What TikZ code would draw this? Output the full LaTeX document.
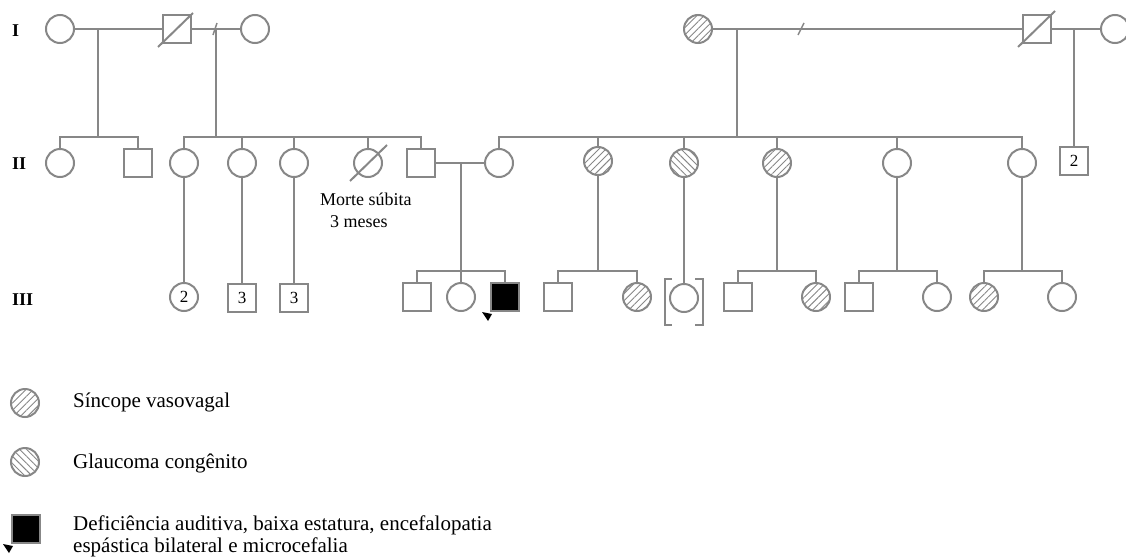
\documentclass[tikz,border=0pt]{standalone}
\usepackage{fontspec}
\setmainfont{Liberation Serif}
\usetikzlibrary{patterns.meta}
\definecolor{pedline}{RGB}{135,135,135}
\tikzset{
  ln/.style={draw=pedline, line width=2pt},
  person/.style={ln, minimum size=28pt, inner sep=0pt, font=\fontsize{17}{17}\selectfont},
  fem/.style={person, circle},
  mal/.style={person, rectangle},
  vaso/.style={pattern={Lines[angle=45,distance=5pt,line width=0.9pt]}, pattern color=pedline},
  glau/.style={pattern={Lines[angle=-45,distance=5pt,line width=0.9pt]}, pattern color=pedline},
  aff/.style={fill=black},
  gen/.style={anchor=base west, inner sep=0pt, font=\bfseries\fontsize{18}{18}\selectfont},
  note/.style={anchor=base west, inner sep=0pt, font=\fontsize{18}{18}\selectfont},
  legtxt/.style={anchor=base west, inner sep=0pt, font=\fontsize{21}{21}\selectfont},
}
\begin{document}
\begin{tikzpicture}[x=1pt,y=-1pt]
\useasboundingbox (0,0) rectangle (1126,557);

% generation labels
\node[gen] (gI) at (12,36) {I};
\node[gen] (gII) at (12,169) {II};
\node[gen] (gIII) at (12,305) {III};

% ---------- generation I ----------
\node[fem] (i1) at (60,29) {};
\node[mal] (i2) at (177,29) {};
\node[fem] (i3) at (255,29) {};
\node[fem,vaso] (i4) at (698,29) {};
\node[mal] (i5) at (1037,29) {};
\node[fem] (i6) at (1115,29) {};
% deceased
\draw[ln] ([shift={(-19,18)}]i2.center) -- ([shift={(16,-16)}]i2.center);
\draw[ln] ([shift={(-19,18)}]i5.center) -- ([shift={(18,-18)}]i5.center);

% couples
\draw[ln] (i1) -- (i2);
\draw[ln] (i2) -- (i3);
\draw[ln] (i4) -- (i5);
\draw[ln] (i5) -- (i6);
% separation marks
\coordinate (sep1) at (215,29);
\coordinate (sep2) at (801,29);
\draw[ln,line width=1.5pt] ([shift={(-2,6)}]sep1) -- ([shift={(2,-6)}]sep1);
\draw[ln,line width=1.5pt] ([shift={(-3,6)}]sep2) -- ([shift={(3,-6)}]sep2);

% marriage points and sibship bars
\coordinate (m1) at (98,29);
\coordinate (m2) at (216,29);
\coordinate (m3) at (737,29);
\coordinate (m4) at (1074,29);
\coordinate (bar) at (0,137);
\coordinate (bar3) at (0,271);

% ---------- generation II ----------
\node[fem] (ii1) at (60,163) {};
\node[mal] (ii2) at (138,163) {};
\node[fem] (ii3) at (184,163) {};
\node[fem] (ii4) at (242,163) {};
\node[fem] (ii5) at (294,163) {};
\node[fem] (ii6) at (368,163) {};
\node[mal] (ii7) at (421,163) {};
\node[fem] (ii8) at (499,163) {};
\node[fem,vaso] (ii9) at (598,161) {};
\node[fem,glau] (ii10) at (684,163) {};
\node[fem,vaso] (ii11) at (777,163) {};
\node[fem] (ii12) at (897,163) {};
\node[fem] (ii13) at (1022,163) {};
\node[mal] (ii14) at (1074,161) {2};
\draw[ln] ([shift={(-18,18)}]ii6.center) -- ([shift={(19,-18)}]ii6.center);

\node[note] (morte) at (320,205) {Morte súbita};
\node[note] (meses) at (330,227) {3 meses};

% descent I -> II
\draw[ln] (m1) -- (m1 |- bar);
\draw[ln] (ii1) |- (m1 |- bar) -| (ii2);
\draw[ln] (m2) -- (m2 |- bar);
\draw[ln] (ii3) |- (m2 |- bar) -| (ii7);
\draw[ln] (ii4) -- (ii4 |- bar);
\draw[ln] (ii5) -- (ii5 |- bar);
\draw[ln] (ii6) -- (ii6 |- bar);
\draw[ln] (m3) -- (m3 |- bar);
\draw[ln] (ii8) |- (m3 |- bar) -| (ii13);
\draw[ln] (ii9) -- (ii9 |- bar);
\draw[ln] (ii10) -- (ii10 |- bar);
\draw[ln] (ii11) -- (ii11 |- bar);
\draw[ln] (ii12) -- (ii12 |- bar);
\draw[ln] (m4) -- (ii14);

% couple II-7 / II-8
\draw[ln] (ii7) -- (ii8);
\coordinate (m5) at (461,163);

% ---------- generation III ----------
\node[fem] (iii1) at (184,297) {2};
\node[mal] (iii2) at (242,298) {3};
\node[mal] (iii3) at (294,298) {3};
\node[mal] (iii4) at (417,297) {};
\node[fem] (iii5) at (461,297) {};
\node[mal,aff] (iii6) at (505,297) {};
\node[mal] (iii7) at (558,297) {};
\node[fem,vaso] (iii8) at (637,297) {};
\node[fem] (iii9) at (684,298) {};
\node[mal] (iii10) at (738,297) {};
\node[fem,vaso] (iii11) at (816,297) {};
\node[mal] (iii12) at (859,297) {};
\node[fem] (iii13) at (937,297) {};
\node[fem,vaso] (iii14) at (984,297) {};
\node[fem] (iii15) at (1062,297) {};

% proband arrow
\fill[black] ([shift={(-8,0)}]iii6.south west) -- ++(10,2) -- ++(-4,7) -- cycle;

% adoption brackets
\draw[ln,line width=1.6pt] ([shift={(-12,-19)}]iii9.center) -- ++(-7,0) -- ++(0,46) -- ++(7,0);
\draw[ln,line width=1.6pt] ([shift={(11,-19)}]iii9.center) -- ++(8,0) -- ++(0,46) -- ++(-8,0);

% descent II -> III
\draw[ln] (ii3) -- (iii1);
\draw[ln] (ii4) -- (iii2);
\draw[ln] (ii5) -- (iii3);
\draw[ln] (m5) -- (iii5);
\draw[ln] (iii4) |- (m5 |- bar3) -| (iii6);
\draw[ln] (ii9) -- (ii9 |- bar3);
\draw[ln] (iii7) |- (ii9 |- bar3) -| (iii8);
\coordinate (gap) at (684,279);
\draw[ln] (ii10) -- ([yshift=-2pt]gap);
\draw[ln] ([yshift=2pt]gap) -- (iii9);
\draw[ln] (ii11) -- (ii11 |- bar3);
\draw[ln] (iii10) |- (ii11 |- bar3) -| (iii11);
\draw[ln] (ii12) -- (ii12 |- bar3);
\draw[ln] (iii12) |- (ii12 |- bar3) -| (iii13);
\draw[ln] (ii13) -- (ii13 |- bar3);
\draw[ln] (iii14) |- (ii13 |- bar3) -| (iii15);

% ---------- legend ----------
\node[fem,vaso] (lg1) at (25,403) {};
\node[fem,glau] (lg2) at (25,462) {};
\node[mal,aff] (lg3) at (26,529) {};
\fill[black] ([shift={(-8,0)}]lg3.south west) -- ++(10,2) -- ++(-4,7) -- cycle;
\node[legtxt] (t1) at (73,407) {Síncope vasovagal};
\node[legtxt] (t2) at (73,468) {Glaucoma congênito};
\node[legtxt] (t3) at (73,530) {Deficiência auditiva, baixa estatura, encefalopatia};
\node[legtxt] (t4) at (73,552) {espástica bilateral e microcefalia};
\end{tikzpicture}
\end{document}
